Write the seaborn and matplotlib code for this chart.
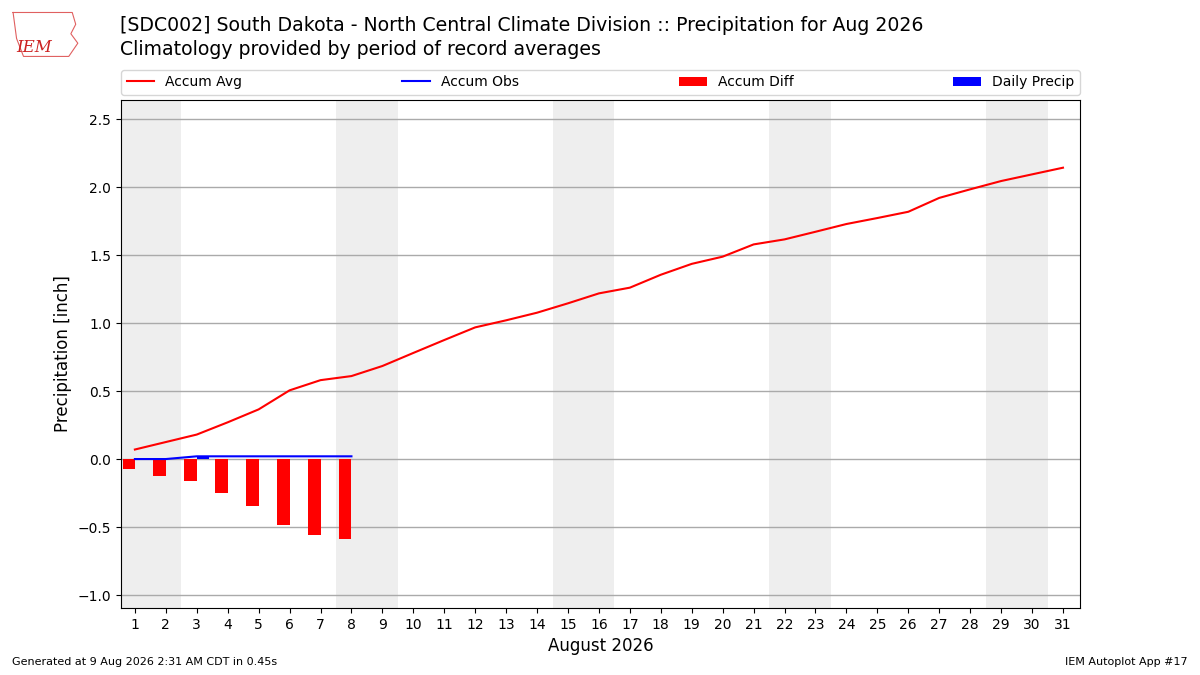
import numpy as np
import matplotlib
matplotlib.use("Agg")
import matplotlib.pyplot as plt
import seaborn as sns

# day of month
days = list(range(1, 32))
# climatology accumulated average (inch)
accum_avg = [0.07, 0.125, 0.18, 0.27, 0.365, 0.505, 0.58, 0.61, 0.684, 0.78,
             0.875, 0.968, 1.02, 1.076, 1.145, 1.218, 1.26, 1.355, 1.435, 1.488,
             1.578, 1.615, 1.671, 1.728, 1.772, 1.818, 1.92, 1.983, 2.044, 2.093,
             2.142]
# observed so far
obs_days = [1, 2, 3, 4, 5, 6, 7, 8]
daily_precip = [0.0, 0.0, 0.02, 0.0, 0.0, 0.0, 0.0, 0.0]
accum_obs = list(np.cumsum(daily_precip))
accum_diff = [o - a for o, a in zip(accum_obs, accum_avg[:len(obs_days)])]
weekends = [(1, 2), (8, 9), (15, 16), (22, 23), (29, 30)]

fig = plt.figure(figsize=(12, 6.75), dpi=100)
ax = fig.add_axes([0.1008, 0.0993, 0.7992, 0.7526])

for a, b in weekends:
    ax.axvspan(a - 0.5, b + 0.5, color="#eeeeee", zorder=0, lw=0)

ax.bar(obs_days, accum_diff, width=-0.4, align="edge", color="red",
       label="Accum Diff", zorder=2)
ax.bar(obs_days, daily_precip, width=0.4, align="edge", color="blue",
       label="Daily Precip", zorder=2)
sns.lineplot(x=days, y=accum_avg, ax=ax, color="red", lw=1.5,
             label="Accum Avg", zorder=3)
sns.lineplot(x=obs_days, y=accum_obs, ax=ax, color="blue", lw=1.5,
             label="Accum Obs", zorder=3)

ax.set_xlim(0.55, 31.55)
ax.set_ylim(-1.095, 2.64)
ax.set_xticks(days)
ax.set_yticks(np.arange(-1.0, 2.51, 0.5))
ax.yaxis.grid(True, color="#aaaaaa", lw=1)
ax.set_axisbelow(True)
ax.set_xlabel("August 2026", fontsize=12)
ax.set_ylabel("Precipitation [inch]", fontsize=12)

h, l = ax.get_legend_handles_labels()
order = [l.index(n) for n in ["Accum Avg", "Accum Obs", "Accum Diff", "Daily Precip"]]
ax.legend([h[i] for i in order], [l[i] for i in order], loc="lower left",
          bbox_to_anchor=(0, 1.01, 1, 0.05), ncol=4, mode="expand",
          borderaxespad=0, fontsize=10)

fig.text(0.1, 0.962, "[SDC002] South Dakota - North Central Climate Division :: Precipitation for Aug 2026",
         fontsize=13.6, va="center")
fig.text(0.1, 0.927, "Climatology provided by period of record averages",
         fontsize=13.6, va="center")

# rough stand-in for the IEM logo
logo = fig.add_axes([0.008, 0.915, 0.058, 0.07])
logo.plot([0.05, 0.9, 0.95, 0.88, 0.98, 0.85, 0.2, 0.1, 0.05],
          [0.95, 0.95, 0.7, 0.5, 0.3, 0.02, 0.02, 0.4, 0.95],
          color="#e06060", lw=0.8)
logo.text(0.35, 0.2, "IEM", fontsize=12, color="#cc2222", family="DejaVu Serif",
          style="italic", ha="center", va="center")
logo.set_xlim(0, 1)
logo.set_ylim(0, 1)
logo.axis("off")

fig.text(0.01, 0.015, "Generated at 9 Aug 2026 2:31 AM CDT in 0.45s", fontsize=8)
fig.text(0.99, 0.015, "IEM Autoplot App #17", fontsize=8, ha="right")

fig.savefig("out.png", dpi=100)
